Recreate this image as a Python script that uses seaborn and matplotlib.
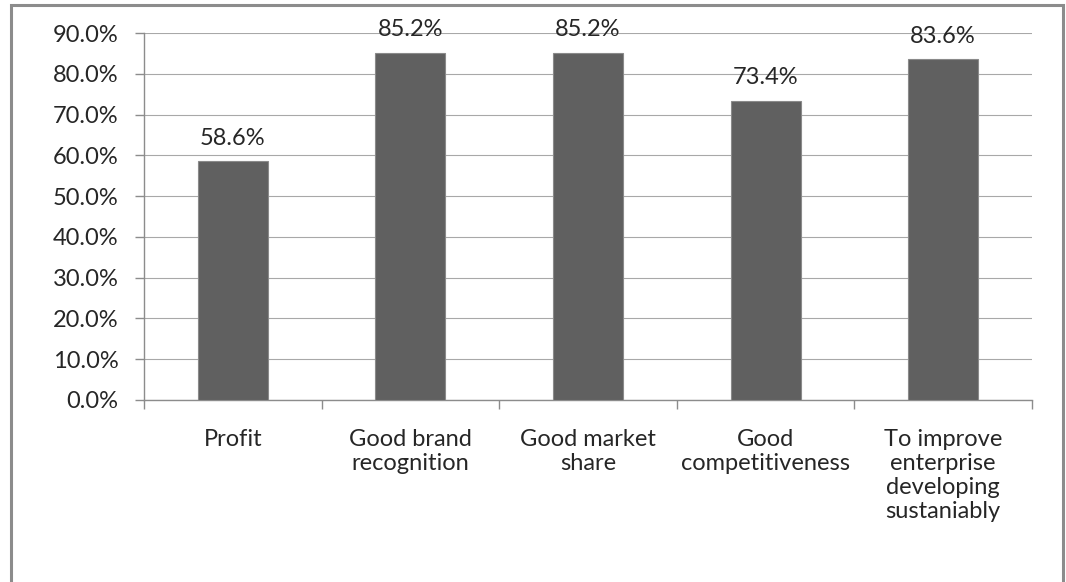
import matplotlib
matplotlib.use("Agg")
import matplotlib.pyplot as plt
from matplotlib.patches import Rectangle
from matplotlib.ticker import FuncFormatter, FixedLocator
import seaborn as sns
import pandas as pd

categories = [
    "Profit",
    "Good brand\nrecognition",
    "Good market\nshare",
    "Good\ncompetitiveness",
    "To improve\nenterprise\ndeveloping\nsustaniably",
]
values = [58.6, 85.2, 85.2, 73.4, 83.6]
y_ticks = [0, 10, 20, 30, 40, 50, 60, 70, 80, 90]

df = pd.DataFrame({"category": categories, "value": values})

sns.set_theme(style="white")
plt.rcParams["font.family"] = ["Lato", "DejaVu Sans"]

W, H, DPI = 1066, 582, 100
FS = 17
TXT = "#262626"
fig = plt.figure(figsize=(W / DPI, H / DPI), dpi=DPI)
fig.patch.set_facecolor("white")

# outer chart frame
fig.patches.append(Rectangle((11 / W, -0.05), (1063 - 11) / W, 1.05 - 5 / H,
                             transform=fig.transFigure, fill=False,
                             edgecolor="#8c8c8c", linewidth=2.2, zorder=0))

ax = fig.add_axes([144 / W, 1 - 400 / H, (1032 - 144) / W, (400 - 33) / H])

sns.barplot(data=df, x="category", y="value", ax=ax, color="#606060",
            width=0.394, saturation=1, edgecolor="#8a8a8a", linewidth=0.8,
            zorder=3)

ax.set_xlim(-0.5, len(categories) - 0.5)
ax.set_ylim(0, 90)
ax.set_yticks(y_ticks)
ax.yaxis.set_major_formatter(FuncFormatter(lambda v, p: f"{v:.1f}%"))
ax.grid(axis="y", color="#a8a8a8", linewidth=0.8, zorder=0)
ax.set_axisbelow(True)

for s in ["top", "right"]:
    ax.spines[s].set_visible(False)
for s in ["left", "bottom"]:
    ax.spines[s].set_color("#8c8c8c")
    ax.spines[s].set_linewidth(1.0)

ax.tick_params(axis="y", which="major", left=True, length=6.5, width=1.0,
               color="#8c8c8c", pad=12, labelsize=FS, labelcolor=TXT)
ax.tick_params(axis="x", which="major", bottom=False, length=0, pad=21,
               labelsize=FS, labelcolor=TXT)
ax.xaxis.set_minor_locator(FixedLocator([i - 0.5 for i in range(len(categories) + 1)]))
ax.tick_params(axis="x", which="minor", bottom=True, length=6.5, width=1.0,
               color="#8c8c8c")
for lbl in ax.get_xticklabels():
    lbl.set_linespacing(1.17)
    lbl.set_verticalalignment("top")

ax.set_xlabel("")
ax.set_ylabel("")

ax.bar_label(ax.containers[0], labels=[f"{v:.1f}%" for v in values],
             padding=9, fontsize=FS, color=TXT)

fig.savefig("out.png", dpi=DPI, facecolor="white")
